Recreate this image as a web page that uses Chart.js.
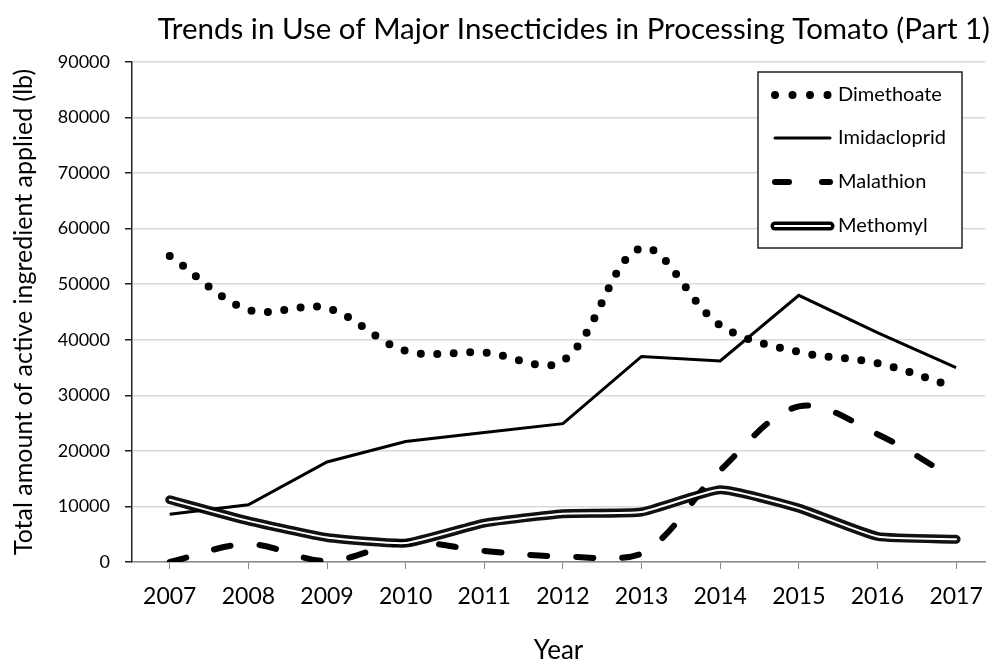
<!DOCTYPE html>
<html>
<head>
<meta charset="utf-8">
<script src="https://cdn.jsdelivr.net/npm/chart.js@4.4.0/dist/chart.umd.min.js"></script>
<style>
  html, body { margin: 0; padding: 0; background: #fff; }
  #wrap { width: 997px; height: 667px; }
</style>
</head>
<body>
<div id="wrap"><canvas id="chart"></canvas></div>
<script>
const years = [2007, 2008, 2009, 2010, 2011, 2012, 2013, 2014, 2015, 2016, 2017];
const dimethoate = [55100, 45400, 45700, 38000, 37700, 36200, 56500, 42600, 37800, 35800, 31400];
const imidacloprid = [8600, 10300, 18000, 21700, 23300, 24900, 37000, 36200, 48000, 41300, 35000];
const malathion = [0, 3200, 200, 3500, 2000, 1000, 1500, 16500, 28000, 23000, 14800];
const methomyl = [11200, 7400, 4400, 3400, 7000, 8700, 9000, 13000, 9700, 4600, 4100];
const yTicks = [0, 10000, 20000, 30000, 40000, 50000, 60000, 70000, 80000, 90000];

const FONT = 'Lato, "Open Sans", sans-serif';

function pts(vals) {
    return vals.map((v, i) => ({ x: years[i], y: v }));
}

const legendItems = [
    { label: 'Dimethoate', kind: 'dot' },
    { label: 'Imidacloprid', kind: 'solid' },
    { label: 'Malathion', kind: 'dash' },
    { label: 'Methomyl', kind: 'double' },
];

// legend box drawn by hand: Excel-style, inside the plot, with border
const boxLegend = {
    id: 'boxLegend',
    afterDraw(chart) {
        const ctx = chart.ctx;
        const x0 = 758, y0 = 72, w = 204, h = 176;
        ctx.save();
        ctx.fillStyle = '#fff';
        ctx.fillRect(x0, y0, w, h);
        ctx.strokeStyle = '#222';
        ctx.lineWidth = 1.5;
        ctx.strokeRect(x0, y0, w, h);
        const rows = [95, 138, 182, 226];
        legendItems.forEach((it, i) => {
            const y = rows[i];
            const xa = 775, xb = 830;
            ctx.lineCap = 'round';
            ctx.setLineDash([]);
            ctx.strokeStyle = '#000';
            if (it.kind === 'dot') {
                ctx.lineWidth = 8;
                ctx.setLineDash([0, 17.5]);
            } else if (it.kind === 'solid') {
                ctx.lineWidth = 3;
            } else if (it.kind === 'dash') {
                ctx.lineWidth = 6;
                ctx.setLineDash([14, 33]);
            } else {
                ctx.lineWidth = 9;
            }
            ctx.beginPath();
            ctx.moveTo(xa, y);
            ctx.lineTo(xb, y);
            ctx.stroke();
            if (it.kind === 'double') {
                ctx.strokeStyle = '#fff';
                ctx.lineWidth = 2;
                ctx.beginPath();
                ctx.moveTo(xa, y);
                ctx.lineTo(xb, y);
                ctx.stroke();
            }
            ctx.setLineDash([]);
            ctx.fillStyle = '#000';
            ctx.font = '20px ' + FONT;
            ctx.textBaseline = 'middle';
            ctx.textAlign = 'left';
            ctx.fillText(it.label, 838, y);
        });
        ctx.restore();
    }
};

new Chart(document.getElementById('chart'), {
    type: 'line',
    data: {
        datasets: [
            {
                label: 'Methomyl inner',
                data: pts(methomyl),
                borderColor: '#fff',
                borderWidth: 2,
                borderCapStyle: 'round',
                pointRadius: 0,
                tension: 0.15,
                order: 0,
            },
            {
                label: 'Dimethoate',
                data: pts(dimethoate),
                borderColor: '#000',
                borderWidth: 8,
                borderDash: [0, 16.5],
                borderCapStyle: 'round',
                pointRadius: 0,
                tension: 0.35,
                order: 1,
            },
            {
                label: 'Imidacloprid',
                data: pts(imidacloprid),
                borderColor: '#000',
                borderWidth: 3,
                pointRadius: 0,
                tension: 0,
                order: 2,
            },
            {
                label: 'Malathion',
                data: pts(malathion),
                borderColor: '#000',
                borderWidth: 6,
                borderDash: [17, 29],
                borderCapStyle: 'round',
                pointRadius: 0,
                tension: 0.35,
                order: 1,
            },
            {
                label: 'Methomyl',
                data: pts(methomyl),
                borderColor: '#111',
                borderWidth: 9,
                borderCapStyle: 'round',
                pointRadius: 0,
                tension: 0.15,
                order: 3,
            },
        ],
    },
    options: {
        responsive: true,
        maintainAspectRatio: false,
        animation: false,
        layout: { padding: { left: 0, right: 7, top: 0, bottom: 0 } },
        plugins: {
            legend: { display: false },
            tooltip: { enabled: false },
            title: {
                display: true,
                text: 'Trends in Use of Major Insecticides in Processing Tomato (Part 1)',
                color: '#000',
                font: { family: FONT, size: 29.5, weight: 'normal' },
                padding: { top: 12, bottom: 14.6 },
                align: 'end',
            },
        },
        scales: {
            x: {
                type: 'linear',
                min: 2006.52,
                max: 2017.37,
                afterBuildTicks(scale) {
                    scale.ticks = years.map(v => ({ value: v }));
                },
                afterFit(scale) { scale.height = 105; },
                ticks: {
                    color: '#000',
                    font: { family: FONT, size: 23 },
                    padding: 14,
                    callback: v => String(v),
                },
                grid: {
                    display: true,
                    drawOnChartArea: false,
                    drawTicks: true,
                    tickLength: 7,
                    color: '#888',
                },
                border: { color: '#888', width: 1.5 },
                title: {
                    display: true,
                    text: 'Year',
                    color: '#000',
                    font: { family: FONT, size: 26 },
                    padding: { top: 10, bottom: 1 },
                },
            },
            y: {
                min: 0,
                max: 90000,
                afterBuildTicks(scale) {
                    scale.ticks = yTicks.map(v => ({ value: v }));
                },
                afterFit(scale) { scale.width = 132; },
                ticks: {
                    color: '#000',
                    font: { family: FONT, size: 18 },
                    padding: 15,
                    callback: v => String(v),
                },
                grid: {
                    color: '#d9d9d9',
                    lineWidth: 1.5,
                    drawTicks: true,
                    tickLength: 7,
                    tickColor: '#222',
                },
                border: { color: '#222', width: 1.5 },
                title: {
                    display: true,
                    text: 'Total amount of active ingredient applied (lb)',
                    color: '#000',
                    font: { family: FONT, size: 25 },
                    padding: { top: 9, bottom: 0 },
                },
            },
        },
    },
    plugins: [boxLegend],
});
</script>
</body>
</html>
